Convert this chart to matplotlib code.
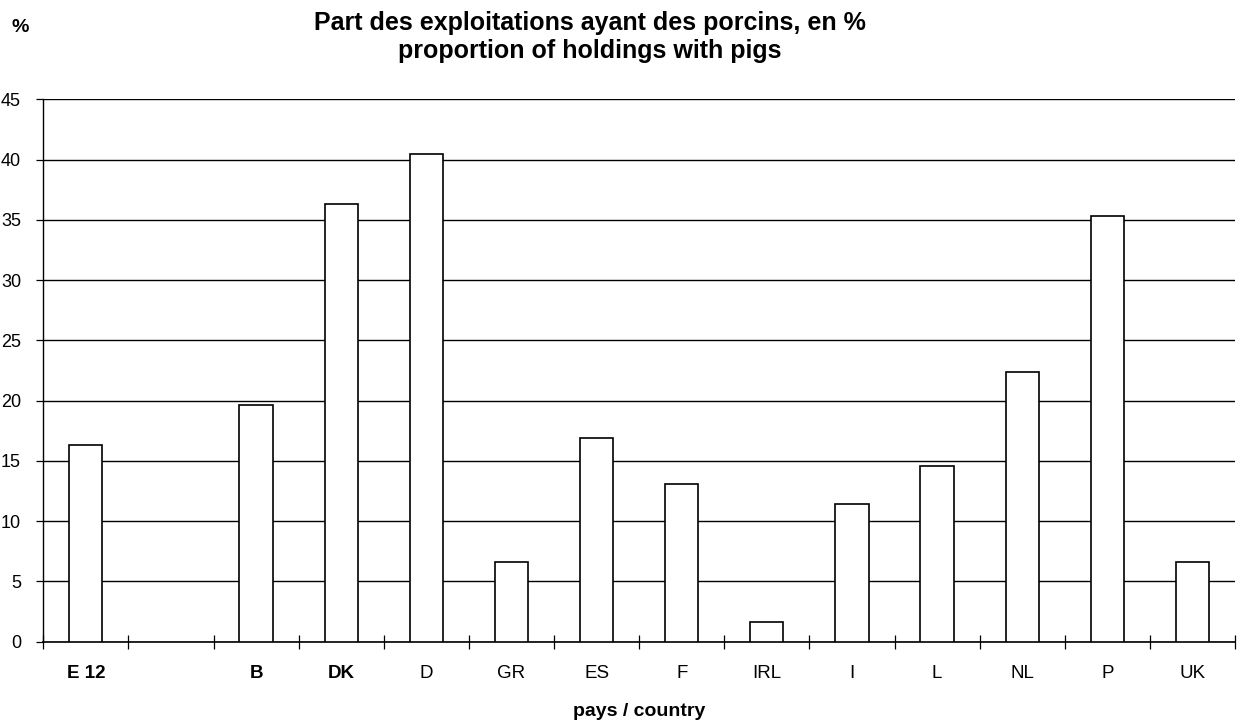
import matplotlib
matplotlib.use("Agg")
import matplotlib.pyplot as plt
import numpy as np

plt.rcParams['font.family'] = ['Liberation Sans', 'DejaVu Sans']

# donnees
pays = ["E 12", "B", "DK", "D", "GR", "ES", "F", "IRL", "I", "L", "NL", "P", "UK"]
part = [16.3, 19.6, 36.3, 40.5, 6.6, 16.9, 13.1, 1.6, 11.4, 14.6, 22.4, 35.3, 6.6]
gras = ["E 12", "B", "DK"]
y_ticks = [0, 5, 10, 15, 20, 25, 30, 35, 40, 45]

# E 12 seul, puis une case vide, puis les pays
slots = [0] + list(range(2, 2 + len(pays) - 1))
x = np.array(slots) + 0.5

fig = plt.figure(figsize=(12.43, 7.22), dpi=100)
ax = fig.add_axes([0.0348, 0.1112, 0.9588, 0.7513])

ax.bar(x, part, width=0.39, color="white", edgecolor="black", linewidth=1.2, zorder=3)

ax.set_ylim(0, 45)
ax.set_xlim(0, 14)
ax.set_yticks(y_ticks)
ax.yaxis.grid(True, color="black", linewidth=1.0, zorder=0)
ax.set_axisbelow(True)

# graduations aux limites de cases, etiquettes au centre
ax.set_xticks(np.arange(0, 15), minor=False)
ax.set_xticklabels([])
ax.tick_params(axis="x", which="major", direction="inout", length=10, width=0.9)
ax.set_xticks(x, minor=True)
ax.set_xticklabels(pays, minor=True)
ax.tick_params(axis="x", which="minor", length=0, pad=16.5, labelsize=13.5)
for lab in ax.get_xticklabels(minor=True):
    if lab.get_text() in gras:
        lab.set_fontweight("bold")

ax.tick_params(axis="y", direction="out", length=5, width=0.9, pad=11, labelsize=13)

for s in ["top", "right"]:
    ax.spines[s].set_visible(False)
ax.spines["left"].set_linewidth(1.0)
ax.spines["bottom"].set_linewidth(1.2)

fig.text(0.4747, 1 - 30 / 722, "Part des exploitations ayant des porcins, en %", ha="center", va="baseline",
         fontsize=18, fontweight="bold")
fig.text(0.4747, 1 - 58 / 722, "proportion of holdings with pigs", ha="center", va="baseline",
         fontsize=18, fontweight="bold")
fig.text(20 / 1243, 1 - 32 / 722, "%", ha="center", va="baseline", fontsize=14, fontweight="bold")
fig.text(639 / 1243, 1 - 716 / 722, "pays / country", ha="center", va="baseline", fontsize=14, fontweight="bold")

fig.savefig("out.png", dpi=100)
